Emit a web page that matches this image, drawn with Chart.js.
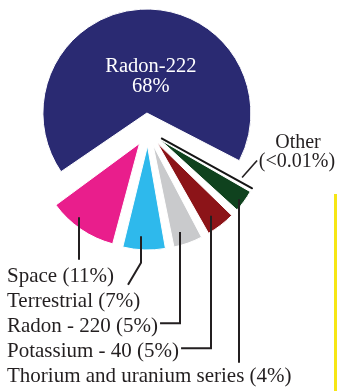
<!DOCTYPE html>
<html>
<head>
<meta charset="utf-8">
<script src="https://cdn.jsdelivr.net/npm/chart.js@4"></script>
<style>
  html, body { margin: 0; padding: 0; background: #ffffff; }
  #wrap { position: relative; width: 337px; height: 391px; overflow: hidden; }
  #wrap canvas { position: absolute; left: 0; top: 0; }
  #bar { position: absolute; left: 334px; top: 194px; width: 3px; height: 197px; background: #f6e616; }
</style>
</head>
<body>
<div id="wrap">
  <canvas id="c" width="337" height="391"></canvas>
  <div id="bar"></div>
</div>
<script>
// Sources of radiation exposure, clockwise from Radon-222
const categories = ['Radon-222', 'Other', 'Thorium and uranium series', 'Potassium - 40', 'Radon - 220', 'Terrestrial', 'Space'];
const shares = [68, 0.01, 4, 5, 5, 7, 11];
const shareText = ['68%', '<0.01%', '4%', '5%', '5%', '7%', '11%'];
const colors = ['#2a2a72', '#151515', '#0f421e', '#8c1418', '#c9cacc', '#2eb9ec', '#e91e8c'];

const RADIUS = 104;          // pie radius in px
const EXPLODE = [18, 15, 15, 15, 15, 15, 15]; // slice pull-out in px
const FONT = '"Liberation Serif", "Times New Roman", serif';
const INK = '#231f20';

// leader anchors inside each slice: [fraction along the arc, fraction of radius]
const anchors = { 6: [0.63, 0.92], 5: [0.59, 0.87], 4: [0.64, 0.875], 3: [0.57, 0.87], 2: [0.56, 0.95] };
// bottom legend rows: slice index and baseline
const rows = [[6, 281.7], [5, 306.7], [4, 331.7], [3, 356.7], [2, 381.7]];

function sliceCenter(arc) {
  const mid = (arc.startAngle + arc.endAngle) / 2;
  const off = (arc.options.offset || 0) / 4;
  return { x: arc.x + Math.cos(mid) * off, y: arc.y + Math.sin(mid) * off };
}
function slicePoint(arc, f, r) {
  const c = sliceCenter(arc);
  const a = arc.startAngle + f * (arc.endAngle - arc.startAngle);
  return { x: c.x + Math.cos(a) * r * RADIUS, y: c.y + Math.sin(a) * r * RADIUS };
}

// keep every slice at the same radius after it is pulled out
const evenRadius = {
  id: 'evenRadius',
  beforeDatasetsDraw(chart) {
    chart.getDatasetMeta(0).data.forEach(arc => {
      const off = (arc.options.offset || 0) / 4;
      const fix = 1 - Math.sin(Math.min(Math.PI, arc.circumference));
      arc.outerRadius = RADIUS - off * fix;
    });
  }
};

const sliceLabels = {
  id: 'sliceLabels',
  afterDatasetsDraw(chart) {
    const ctx = chart.ctx;
    const arcs = chart.getDatasetMeta(0).data;
    ctx.save();
    ctx.font = '20.5px ' + FONT;
    ctx.textBaseline = 'alphabetic';

    // main slice text
    const c0 = sliceCenter(arcs[0]);
    ctx.fillStyle = '#ffffff';
    ctx.textAlign = 'center';
    ctx.fillText(categories[0], c0.x + 4, c0.y - 41);
    ctx.fillText(shareText[0], c0.x + 4, c0.y - 21);

    // "Other" callout
    ctx.font = '20px ' + FONT;
    ctx.fillStyle = INK;
    ctx.fillText(categories[1], 298, 148);
    ctx.fillText('(' + shareText[1] + ')', 297, 167);
    ctx.strokeStyle = INK;
    ctx.lineWidth = 1.6;
    const po = slicePoint(arcs[1], 0.5, 0.9);
    ctx.beginPath();
    ctx.moveTo(po.x - 1, po.y - 6);
    ctx.lineTo(po.x + 14, po.y - 23);
    ctx.stroke();

    // bottom legend with leaders
    ctx.font = '21px ' + FONT;
    ctx.textAlign = 'left';
    ctx.lineWidth = 2;
    rows.forEach(([i, base]) => {
      const text = categories[i] + ' (' + shareText[i] + ')';
      ctx.fillText(text, 7, base);
      const endX = 7 + ctx.measureText(text).width;
      const [f, r] = anchors[i];
      const p = slicePoint(arcs[i], f, r);
      const x = Math.round(p.x);
      ctx.beginPath();
      ctx.moveTo(x, p.y);
      if (i === 6) {
        ctx.lineTo(x, base - 22);
      } else if (i === 5) {
        ctx.lineTo(x, base - 44);
        ctx.lineTo(x - 13, base - 22);
      } else if (i === 2) {
        ctx.lineTo(x, base - 19);
      } else {
        ctx.lineTo(x, base - 8.5);
        ctx.lineTo(endX + 2, base - 8.5);
      }
      ctx.stroke();
    });
    ctx.restore();
  }
};

new Chart(document.getElementById('c'), {
  type: 'pie',
  data: {
    labels: categories,
    datasets: [{
      data: shares,
      backgroundColor: colors,
      borderColor: colors.map((c, i) => i === 1 ? '#151515' : '#ffffff'),
      borderWidth: colors.map((c, i) => i === 1 ? 2 : 1),
      offset: EXPLODE.map(o => o * 4)
    }]
  },
  options: {
    responsive: false,
    animation: false,
    rotation: 234.1,
    radius: RADIUS,
    layout: { padding: { left: 0, right: 41, top: 0, bottom: 129 } },
    plugins: { legend: { display: false }, tooltip: { enabled: false } },
    events: []
  },
  plugins: [evenRadius, sliceLabels]
});
</script>
</body>
</html>
